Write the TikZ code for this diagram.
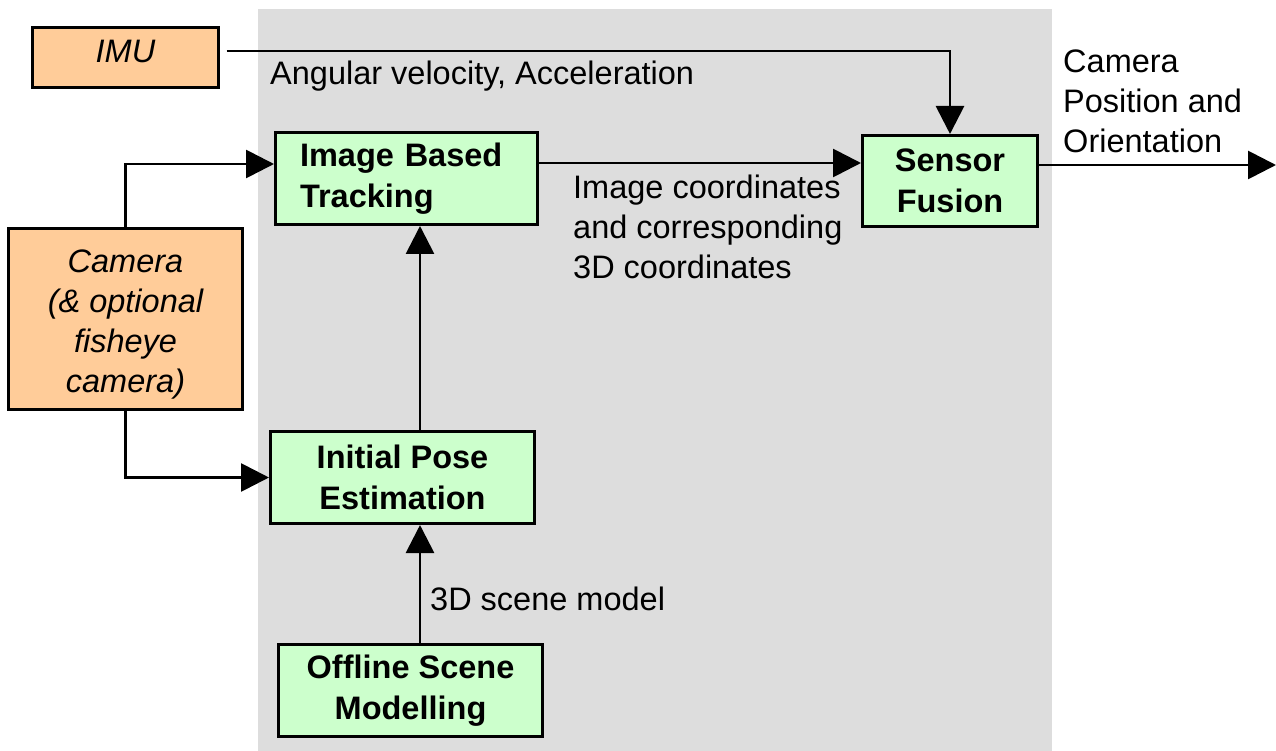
\documentclass[tikz,border=0pt]{standalone}
\usepackage{fontspec}
\setmainfont{Liberation Sans}
\usetikzlibrary{arrows.meta,calc}
\definecolor{bgGray}{HTML}{DDDDDD}
\definecolor{srcOrange}{HTML}{FFCC99}
\definecolor{procGreen}{HTML}{CCFFCC}
\begin{document}
\begin{tikzpicture}[x=1pt,y=-1pt,
  txt/.style={font=\fontsize{32.5pt}{40pt}\selectfont, inner sep=0pt},
  box/.style={draw=black, line width=3pt, inner sep=0pt},
  srcbox/.style={box, fill=srcOrange, font=\fontsize{32.5pt}{40pt}\selectfont\itshape},
  procbox/.style={box, fill=procGreen, font=\fontsize{32.5pt}{40.5pt}\selectfont\bfseries},
  arr/.style={line width=2.8pt, -{Triangle[length=28pt,width=28pt]}}
]
\useasboundingbox (0,0) rectangle (1276,751);
\fill[bgGray] (258,9) rectangle (1052,751);

% boxes
\node[srcbox, minimum width=186pt, minimum height=60pt, text depth=12pt] (imu) at (125.5,57.5) {IMU};
\node[srcbox, minimum width=234pt, minimum height=181pt, align=center] (cam) at (125.5,319) {\rule{0pt}{34pt}Camera\\(\& optional\\fisheye\\camera)};
\node[procbox, minimum height=92pt, inner xsep=24.5pt, text width=213pt, align=left] (ibt) at (406.5,178.5) {Image Based\\Tracking};
\node[procbox, minimum width=175pt, minimum height=91pt, align=center] (sf) at (950,181) {Sensor\\Fusion};
\node[procbox, minimum width=264pt, minimum height=92pt, align=center] (ipe) at (402.5,477.5) {Initial Pose\\Estimation};
\node[procbox, minimum width=264pt, minimum height=92pt, align=center] (osm) at (410.5,690.5) {Offline Scene\\Modelling};

% connectors
\coordinate (out) at (1276,165);
\draw[arr] ([shift={(6.5,-6.5)}]imu.east) -| (sf.north);
\draw[arr] ([yshift=15.5pt]ibt.east) -- ([yshift=15.5pt]ibt.east -| sf.west);
\draw[arr] (cam.north) |- ([yshift=14.5pt]ibt.west);
\draw[arr] (cam.south) |- (ipe.west);
\draw[arr] ([xshift=17.5pt]ipe.north) -- ([xshift=17.5pt]ipe.north |- ibt.south);
\draw[arr] ([xshift=9.5pt]osm.north) -- ([xshift=9.5pt]osm.north |- ipe.south);
\draw[arr] ([yshift=16pt]sf.east) -- ([yshift=16pt]sf.east -| out);

% labels
\node[txt, anchor=base west] (lblimu) at (270,85) {Angular velocity, Acceleration};
\node[txt, anchor=north west, align=left] (lblout) at (1063,50) {Camera\\Position and\\Orientation};
\node[txt, anchor=north west, align=left] (lblimg) at (573,175) {Image coordinates\\and corresponding\\3D coordinates};
\node[txt, anchor=base west] (lblscene) at (430,610) {3D scene model};
\end{tikzpicture}
\end{document}
